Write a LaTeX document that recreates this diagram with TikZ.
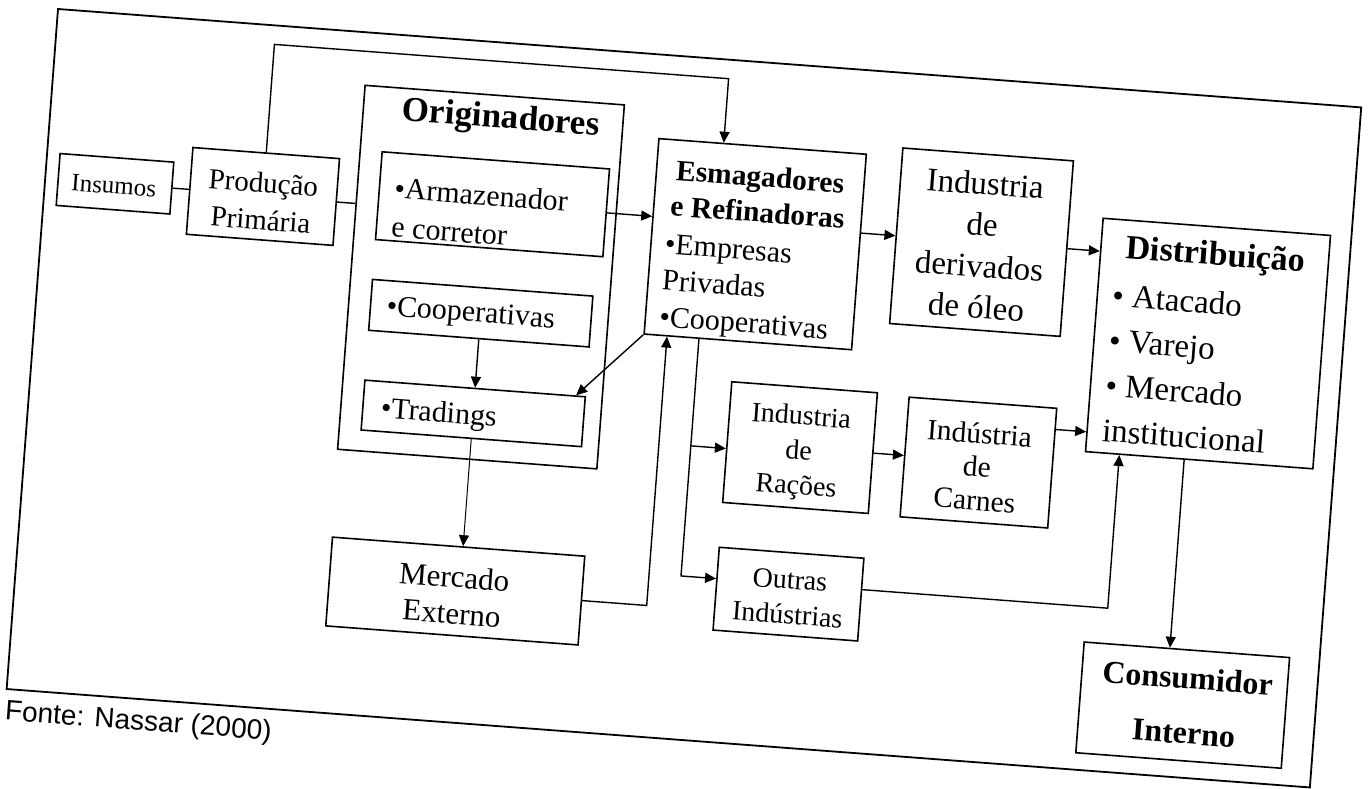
\documentclass[tikz,border=0pt]{standalone}
\usepackage{fontspec}
\setmainfont{Liberation Serif}
\newfontfamily\arialf{Liberation Sans}
\usetikzlibrary{arrows.meta}
\newcommand\fsz[2]{\fontsize{#1}{#2}\selectfont}
\begin{document}
\begin{tikzpicture}[x=1pt,y=-1pt,
  box/.style={draw, line width=1.6pt, inner sep=0pt, rectangle},
  txt/.style={inner sep=0pt, align=center},
  ltxt/.style={inner sep=0pt, align=left, anchor=west},
  arr/.style={line width=1.4pt, -{Triangle[length=11pt,width=10pt]}},
  ln/.style={line width=1.4pt}]
\fill[white] (0,0) rectangle (1370,789);
\useasboundingbox (0,0) rectangle (1370,789);
\begin{scope}[shift={(58,9)}, rotate=-4.32, transform shape]
% frame
\node[box, line width=1.8pt, minimum width=1307pt, minimum height=682pt] (frame) at (653.5,341) {};
% boxes and texts
\node[box, minimum width=114pt, minimum height=52pt] (ins) at (70,170) {};
\node[txt, font=\fsz{25}{30}] (inst) at (69,172) {Insumos};
\node[box, minimum width=147pt, minimum height=87pt] (prod) at (218.5,171.5) {};
\node[txt, font=\fsz{29}{37}] (prodt) at (218,176.5) {Produção\\Primária};
\node[box, minimum width=260pt, minimum height=365pt] (orig) at (442,235.5) {};
\node[txt, font=\bfseries\fsz{35}{40}] (origt) at (450,77) {Originadores};
\node[box, minimum width=228pt, minimum height=88pt] (arm) at (448,162) {};
\node[ltxt, font=\fsz{30}{39}] (armt) at (349,172.5) {•Armazenador\\e corretor};
\node[box, minimum width=221pt, minimum height=51pt] (coop) at (444.5,271.5) {};
\node[ltxt, font=\fsz{30}{36}] (coopt) at (350,274) {•Cooperativas};
\node[box, minimum width=221pt, minimum height=50pt] (trad) at (444.5,372) {};
\node[ltxt, font=\fsz{30}{36}] (tradt) at (352,376) {•Tradings};
\node[box, minimum width=253pt, minimum height=89pt] (merc) at (440,550.5) {};
\node[txt, font=\fsz{31}{36.5}] (merct) at (438,554.5) {Mercado\\Externo};
\node[box, minimum width=208pt, minimum height=196pt] (esm) at (713,182) {};
\node[txt, font=\bfseries\fsz{29.5}{35.5}] (esmt) at (713,132) {Esmagadores\\e Refinadoras};
\node[ltxt, font=\fsz{30}{36.5}] (esml) at (623,228) {•Empresas\\Privadas\\•Cooperativas};
\node[box, minimum width=171pt, minimum height=176pt] (ind) at (938.5,163) {};
\node[txt, font=\fsz{33}{41.3}] (indt) at (938,166) {Industria\\de\\derivados\\de óleo};
\node[box, minimum width=228pt, minimum height=234pt] (dist) at (1172,247) {};
\node[txt, font=\bfseries\fsz{34}{40}] (distt) at (1173,160) {Distribuição};
\node[ltxt, font=\fsz{33}{45}] (distl) at (1073,273.5) {• Atacado\\• Varejo\\• Mercado\\institucional};
\node[box, minimum width=146pt, minimum height=121pt] (rac) at (773,381.5) {};
\node[txt, font=\fsz{28}{35}] (ract) at (772,387) {Industria\\de\\Rações};
\node[box, minimum width=148pt, minimum height=120pt] (carn) at (952,383) {};
\node[txt, font=\fsz{29.5}{33.5}] (carnt) at (951,387) {Indústria\\de\\Carnes};
\node[box, minimum width=145pt, minimum height=83pt] (outr) at (772.5,528.5) {};
\node[txt, font=\fsz{28}{35}] (outrt) at (773,531.5) {Outras\\Indústrias};
\node[box, minimum width=206pt, minimum height=111pt] (cons) at (1174,609.5) {};
\node[txt, font=\bfseries\fsz{32}{55}] (const) at (1177,609.5) {Consumidor\\Interno};
\node[anchor=base west, inner sep=0pt, font=\arialf\fsz{28}{32}] (fonte) at (0,713) {Fonte: Nassar (2000)};
% connectors
\coordinate (topR) at (674,19);
\draw[arr] (prod.north) -- (prod.north |- topR) -- (topR) -- (topR |- esm.north);
\draw[ln] (ins.east) -- (ins.east -| prod.west);
\draw[ln] (prod.east) -- (prod.east -| orig.west);
\draw[arr] (arm.east) -- (arm.east -| esm.west);
\draw[arr] (coop.south) -- (trad.north);
\draw[arr, line width=1pt] (trad.south) -- (trad.south |- merc.north);
\draw[arr] (esm.south west) -- ([xshift=-10pt]trad.north east);
\coordinate (mx) at (632,550);
\draw[arr] (merc.east) -- (merc.east -| mx) -- (mx |- esm.south);
\draw[arr] (ind.west -| esm.east) -- (ind.west);
\draw[arr] (ind.east) -- (ind.east -| dist.west);
\coordinate (vx) at (664,400);
\coordinate (ob) at ([yshift=10pt]outr.west);
\coordinate (rb) at ([yshift=-6.5pt]rac.west);
\draw[arr] (vx |- esm.south) -- (vx |- ob) -- (ob);
\draw[arr] (vx |- rb) -- (rb);
\draw[arr] (rac.east) -- (rac.east -| carn.west);
\coordinate (cb) at ([yshift=-22pt]carn.north east);
\draw[arr] (cb) -- (cb -| dist.west);
\coordinate (oe) at ([yshift=10pt]outr.east);
\coordinate (ox) at (1092,500);
\draw[arr] (oe) -- (oe -| ox) -- (ox |- dist.south);
\coordinate (cx) at (1157,500);
\draw[arr] (cx |- dist.south) -- (cx |- cons.north);
\end{scope}
\end{tikzpicture}
\end{document}
